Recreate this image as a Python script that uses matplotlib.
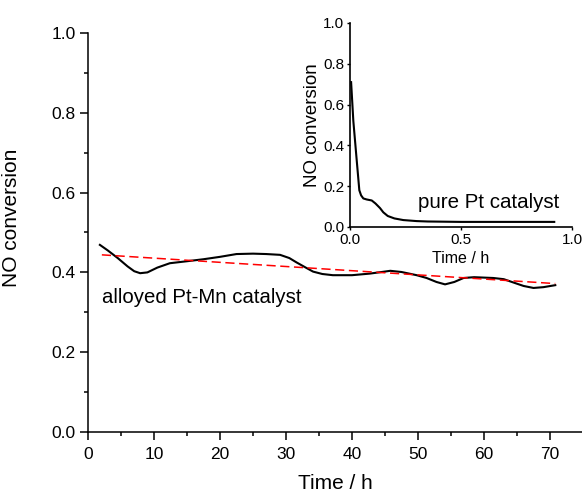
import matplotlib
matplotlib.use("Agg")
import matplotlib.pyplot as plt
from matplotlib.ticker import MultipleLocator

plt.rcParams['font.family'] = ['Liberation Sans', 'DejaVu Sans']

# alloyed Pt-Mn catalyst, long run
main_t = [1.8, 3, 4.5, 6, 7, 7.9, 9, 10.5, 12.4, 15, 17.5, 20, 22.5, 25, 27,
          29.1, 30.5, 31.6, 33, 34.1, 35.5, 37.1, 40, 42.7, 44.5, 45.8, 47.5,
          49.8, 51.3, 52.8, 54.1, 55.5, 56.9, 58.5, 61.4, 63, 64.4, 66, 67.5,
          69, 70.8]
main_conv = [0.469, 0.455, 0.436, 0.415, 0.403, 0.398, 0.400, 0.412, 0.423,
             0.428, 0.433, 0.439, 0.446, 0.447, 0.446, 0.444, 0.436, 0.425,
             0.412, 0.402, 0.396, 0.393, 0.393, 0.397, 0.401, 0.404, 0.401,
             0.393, 0.386, 0.376, 0.370, 0.376, 0.386, 0.388, 0.386, 0.383,
             0.375, 0.366, 0.361, 0.363, 0.368]

# linear trend (red dashed)
fit_t = [2.1, 70.8]
fit_conv = [0.444, 0.372]

# pure Pt catalyst (inset)
pt_t = [0.005, 0.015, 0.03, 0.042, 0.05, 0.06, 0.075, 0.098, 0.115, 0.135,
        0.15, 0.17, 0.2, 0.24, 0.3, 0.35, 0.5, 0.7, 0.92]
pt_conv = [0.71, 0.52, 0.33, 0.18, 0.155, 0.14, 0.135, 0.13, 0.115, 0.093,
           0.072, 0.054, 0.042, 0.034, 0.029, 0.027, 0.025, 0.025, 0.025]

fig = plt.figure(figsize=(5.82, 4.92), dpi=100)

# main axes
ax = fig.add_axes([88 / 582, 60 / 492, 495 / 582, 399 / 492])
ax.plot(main_t, main_conv, color='black', lw=1.5)
ax.plot(fit_t, fit_conv, color='red', lw=1.1, ls=(0, (6, 3)))
ax.set_xlim(0, 75)
ax.set_ylim(0, 1.0)
ax.xaxis.set_major_locator(MultipleLocator(10))
ax.xaxis.set_minor_locator(MultipleLocator(5))
ax.yaxis.set_major_locator(MultipleLocator(0.2))
ax.yaxis.set_minor_locator(MultipleLocator(0.1))
ax.tick_params(which='major', length=6, width=1.1, labelsize=12.5, pad=3)
ax.tick_params(which='minor', length=3, width=1.1)
ax.tick_params(axis='x', which='major', pad=5)
for s in ['top', 'right']:
    ax.spines[s].set_visible(False)
for s in ['left', 'bottom']:
    ax.spines[s].set_linewidth(1.1)
ax.set_xlabel('Time / h', fontsize=15)
ax.set_ylabel('NO conversion', fontsize=15)
ax.yaxis.set_label_coords(-0.135, 0.5376)
ax.xaxis.set_label_coords(0.5, -0.105)
ax.text(2.1, 0.336, 'alloyed Pt-Mn catalyst', fontsize=14.7, va='center', ha='left')

# inset axes
ins = fig.add_axes([350 / 582, 265 / 492, 222 / 582, 204 / 492])
ins.patch.set_alpha(0)
ins.plot(pt_t, pt_conv, color='black', lw=1.5)
ins.set_xlim(0, 1.0)
ins.set_ylim(0, 1.0)
ins.xaxis.set_major_locator(MultipleLocator(0.5))
ins.yaxis.set_major_locator(MultipleLocator(0.2))
ins.tick_params(which='major', length=2.5, width=1.0, labelsize=11, pad=1.5)
for s in ['top', 'right']:
    ins.spines[s].set_visible(False)
for s in ['left', 'bottom']:
    ins.spines[s].set_linewidth(1.2)
ins.set_xlabel('Time / h', fontsize=11.5, labelpad=3)
ins.set_ylabel('NO conversion', fontsize=13.5, labelpad=2)
ins.text(0.306, 0.118, 'pure Pt catalyst', fontsize=14.8, va='center', ha='left')

fig.savefig('out.png', dpi=100)
